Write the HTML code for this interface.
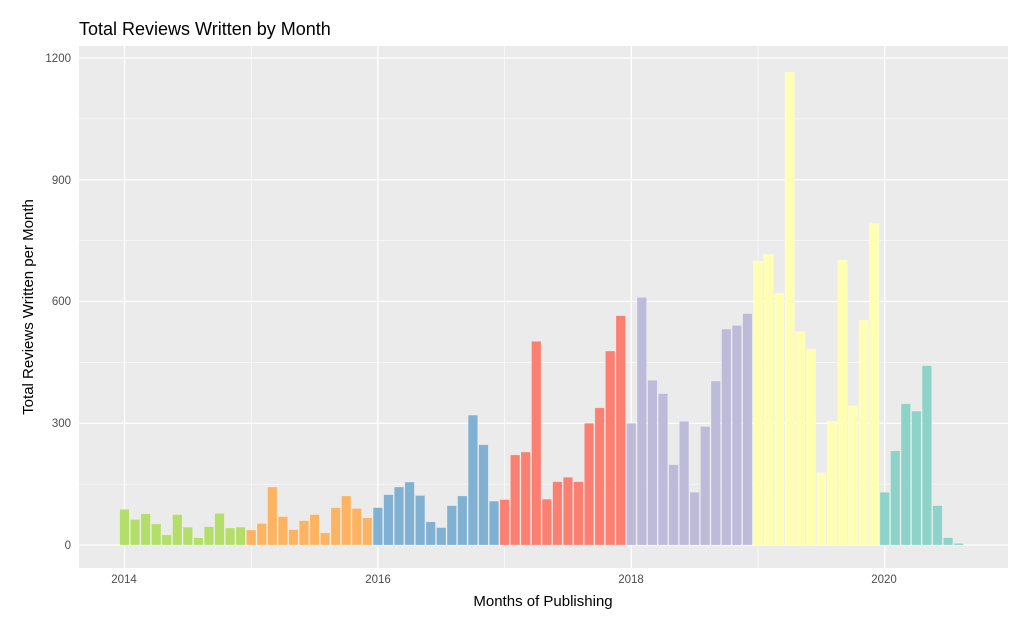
<!DOCTYPE html>
<html><head><meta charset="utf-8"><style>
html,body{margin:0;padding:0;background:#fff;}
text{font-family:"Liberation Sans",sans-serif;}
</style></head><body>
<svg width="1024" height="626" xmlns="http://www.w3.org/2000/svg" id="s">
<rect width="1024" height="626" fill="#fff"/>
<text x="79" y="35" font-size="18" fill="#000">Total Reviews Written by Month</text>
<rect x="79" y="46" width="929" height="522" fill="#EBEBEB"/>
<g id="grid"></g>
<g id="bars"></g>
<g font-size="11.5" fill="#4D4D4D" text-anchor="end">
<text x="71" y="549">0</text><text x="71" y="427">300</text><text x="71" y="305">600</text><text x="71" y="184">900</text><text x="71" y="62">1200</text>
</g>
<g font-size="11.5" fill="#4D4D4D" text-anchor="middle">
<text x="124" y="583">2014</text><text x="378" y="583">2016</text><text x="631" y="583">2018</text><text x="884" y="583">2020</text>
</g>
<text x="543" y="606" font-size="15" text-anchor="middle">Months of Publishing</text>
<text transform="translate(33,307) rotate(-90)" font-size="15" text-anchor="middle">Total Reviews Written per Month</text>
</svg>
<script>
var ns="http://www.w3.org/2000/svg",g=document.getElementById("grid"),b=document.getElementById("bars");
function el(p,t,a){var e=document.createElementNS(ns,t);for(var k in a)e.setAttribute(k,a[k]);p.appendChild(e);}
var y0=545,sc=487/1200,x0=124.5,ym=126.7;
for(var v=150;v<1300;v+=300)el(g,"line",{x1:79,x2:1008,y1:y0-v*sc,y2:y0-v*sc,stroke:"#fff","stroke-width":0.6});
for(var yr=1;yr<7;yr+=2)el(g,"line",{y1:46,y2:568,x1:x0+yr*ym,x2:x0+yr*ym,stroke:"#fff","stroke-width":0.6});
for(var v=0;v<1300;v+=300)el(g,"line",{x1:79,x2:1008,y1:y0-v*sc,y2:y0-v*sc,stroke:"#fff","stroke-width":1.3});
for(var yr=0;yr<7;yr+=2)el(g,"line",{y1:46,y2:568,x1:x0+yr*ym,x2:x0+yr*ym,stroke:"#fff","stroke-width":1.3});
var d=[[88,63,77,52,25,75,44,18,45,78,42,44],[37,53,143,70,38,60,75,30,92,121,90,67],[92,124,143,155,122,57,43,97,121,320,247,108],[112,222,229,502,113,156,167,156,300,338,478,565],[300,610,406,373,198,305,130,292,404,532,541,570],[700,716,620,1165,526,482,178,305,702,343,554,792],[130,232,348,330,442,97,18,4]];
var c=["#B3DE69","#FDB462","#80B1D3","#FB8072","#BEBADA","#FFFFB3","#8DD3C7"];
var mw=ym/12,bw=mw*0.9;
d.forEach(function(a,i){a.forEach(function(v,m){var cx=x0+(i*12+m)*mw;var h=v*sc;el(b,"rect",{x:cx-bw/2,y:y0-h,width:bw,height:h,fill:c[i],stroke:"#fff","stroke-opacity":0.35,"stroke-width":0.6});});});
</script>
</body></html>
